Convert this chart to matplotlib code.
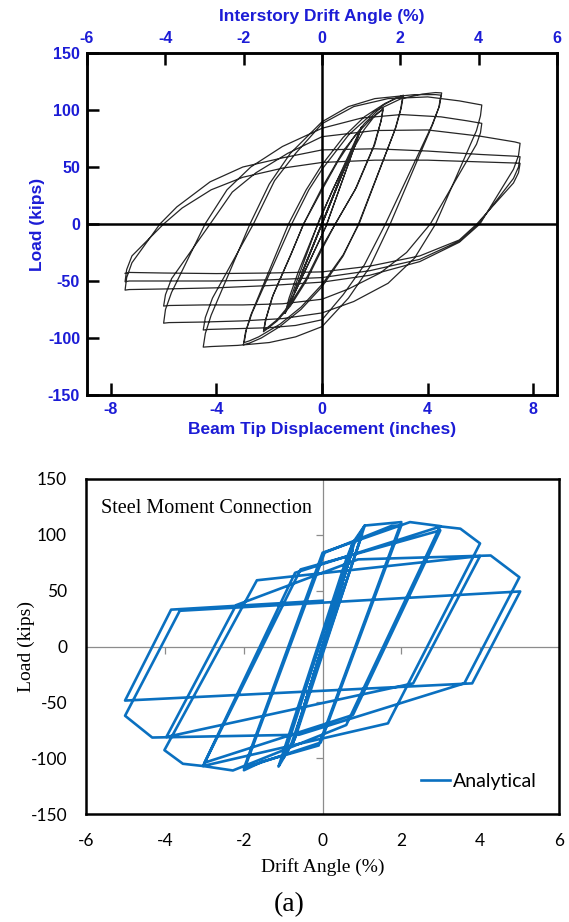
import numpy as np
from matplotlib import pyplot as plt

plt.rcParams['axes.unicode_minus'] = False

# ---- experimental loops (beam tip displacement in inches, load in kips) ----
el_x = [0, 0.75, -0.75, 0.75, -0.75, 1.1, -1.05, 1.1, -1.05, 1.5, 0.15, -1.4, -0.1, 1.5, 0.15, -1.4]
el_y = [0, 44, -42, 44, -42, 63, -60, 63, -60, 85.4, -2, -78.4, 4, 85.4, -2, -78.4]

c15_x = [-1.25, -0.9, -0.3, 0.4, 1.0, 1.6, 2.0, 2.32,
         2.25, 2.0, 1.3, 0.5, 0, -0.6, -1.2, -1.7, -2.05, -2.22,
         -2.15, -1.9, -1.2, -0.7, 0, 0.6, 1.2, 1.8, 2.15, 2.3,
         2.23, 1.95, 1.25, 0.5, 0, -0.6, -1.2, -1.7, -2.05, -2.2]
c15_y = [-65, -42, -8, 30, 58, 83, 95, 101.5,
         92, 70, 32, 0, -22, -50, -72, -85, -91.5, -94.5,
         -85, -65, -28, 0, 30, 55, 76, 91, 98, 100,
         90, 68, 30, 0, -20, -48, -70, -84, -90.5, -93]

c2_x = [-2.12, -1.85, -1.15, -0.7, 0, 0.8, 1.6, 2.3, 2.75, 3.08,
        3.0, 2.8, 1.38, 0.8, 0, -0.8, -1.6, -2.3, -2.75, -2.98,
        -2.9, -2.7, -1.27, -0.6, 0, 0.8, 1.6, 2.4, 2.8, 3.05,
        2.97, 2.75, 1.4, 0.8, 0, -0.8, -1.6, -2.4, -2.75, -2.95]
c2_y = [-83, -62, -25, 0, 32, 64, 88, 104, 110, 113,
        102, 85, 0, -28, -55, -75, -90, -100, -104.5, -106,
        -95, -80, 0, 30, 52, 76, 94, 106, 110, 111,
        100, 82, 0, -27, -53, -73, -88, -99, -102.5, -104]

c3_x = [-2.87, -2.65, -1.15, -0.5, 0, 1, 2, 3, 3.8, 4.3, 4.53,
        4.45, 4.2, 2.58, 1.8, 1.0, 0, -1, -2, -3.2, -4.2, -4.5,
        -4.42, -4.2, -2.73, -2.0, -1.2, 0, 1, 2, 3.5, 4.3, 4.5,
        4.42, 4.15, 2.4, 1.6, 0.8, 0, -1, -2, -3.5, -4.3, -4.5]
c3_y = [-93, -78, 0, 30, 48, 78, 99, 110, 114, 115.3, 115,
        104, 88, 0, -38, -65, -90, -99, -104, -106.5, -107.5, -108,
        -96, -80, 0, 35, 62, 89.7, 103, 110, 113.5, 113.5, 113,
        102, 86, 0, -36, -62, -84, -89, -91, -92, -92.5, -93]

c4_x = [-4.42, -4.15, -2.6, -1.8, -1, 0, 1.2, 2.5, 4, 5.2, 5.9, 6.05,
        6.0, 5.85, 4.3, 3.5, 2.5, 1.2, 0, -1.5, -3, -4.5, -5.8, -6.0,
        -5.93, -5.7, -4.43, -3.6, -2.7, -1.5, 0, 1.5, 3, 4.5, 5.5, 6.05,
        6.0, 5.85, 4.1, 3.2, 2.2, 1, 0, -1.5, -3, -4.5, -5.8, -6.0]
c4_y = [-82, -65, 0, 38, 62, 88, 103, 110, 111.5, 108, 105, 104.4,
        95, 82, 0, -30, -52, -68, -78, -83, -85, -86, -86.5, -87,
        -75, -60, 0, 30, 50, 68, 84, 93, 96, 94, 90.5, 88.3,
        80, 70, 0, -25, -43, -57, -66, -70, -71, -71, -71.5, -72]

c5_x = [-5.93, -5.7, -4.24, -3.4, -2.5, -1.3, 0, 2, 4, 6, 7.3, 7.5,
        7.44, 7.25, 5.98, 5.2, 3.7, 1.8, 0, -2, -4, -6, -7.3, -7.46,
        -7.4, -7.2, -6.14, -5.5, -4.24, -3, -1.5, 0, 2, 4, 6, 7.3, 7.5,
        7.44, 7.25, 5.92, 5.2, 3.7, 1.8, 0, -2, -4, -6, -7.3, -7.46,
        -7.4, -7.2, -6.0, -5.3, -4.2, -3, -1.5, 0, 2, 4, 6, 7.3, 7.5,
        7.44, 7.25, 5.86, 5.2, 3.7, 1.8, 0, -2, -4, -6, -7.3, -7.46]
c5_y = [-62, -48, 0, 28, 45, 62, 76.6, 82, 82.5, 77, 72, 70.8,
        60, 48, 0, -16, -33, -45, -51, -54, -56, -57, -57.5, -58,
        -47, -34, 0, 15, 37, 50, 58, 65, 66, 64, 61, 59.5, 59,
        50, 40, 0, -15, -31, -41, -47, -49, -50, -50, -50, -50.6,
        -40, -28, 0, 14, 30, 41, 49, 54, 56, 56, 54.5, 53.5, 53.2,
        45, 36, 0, -14, -28, -37, -42, -43, -43.5, -43, -42.5, -43.3]

# ---- analytical model (drift angle in %, load in kips) ----
ana_x = [0, 0.375, -0.375, 0.375, -0.375, 0.5, -0.5, 0.5, -0.5, 0.75, -0.75, 0.75, -0.75,
         0.8, 1.07, -0.7, -0.97, -1.12,
         0.6, 0.77, 1.0, -0.8, -1.0,
         0.77, 1.07, 2.0, -0.1, -1.53, -2.0,
         0.05, 1.75, 2.0, -0.05, -2.0,
         0.0, 2.22, 2.99, 0.6, -2.28, -3.04,
         -0.56, 2.99, 0.77, -3.0,
         -0.7, 3.0, 3.5, 4.0, 1.66, -3.04, -3.55, -4.02,
         -1.67, 4.0, 2.3, -3.97,
         -2.2, 0.9, 4.27, 5.0, 3.6, -0.6, -4.33, -5.02,
         -3.63, 5.02, 3.8, -5.02, -3.85, 0]
ana_y = [0, 43, -43, 43, -43, 57, -57, 57, -57, 86, -86, 86, -86,
         92, 108.3, -82, -98.5, -107.5,
         78, 93, 100, -88, -100,
         93, 108.3, 111.4, -88.6, -103, -110.8,
         84, 108, 108.5, -86, -109,
         84, 111.4, 107.8, -70.3, -111, -107,
         69, 104, -61.3, -104,
         66, 107.5, 105.5, 92.3, -68.8, -107, -105, -92.8,
         59.3, 81, -33, -81,
         37, 78, 81.5, 62, -33, -79, -81.5, -62,
         32, 49.3, -33, -48.4, 33, 41]

top_ticks = [-6, -4, -2, 0, 2, 4, 6]
disp_ticks = [-8, -4, 0, 4, 8]
load_ticks = [-150, -100, -50, 0, 50, 100, 150]
drift_ticks = [-6, -4, -2, 0, 2, 4, 6]

blue = '#1c1cd6'
fig = plt.figure(figsize=(5.69, 9.22), dpi=100)

# ---------------- top: experiment ----------------
ax1 = fig.add_axes([0.153, 0.5716, 0.826, 0.3709])
exp_x = el_x + c15_x + c2_x + c3_x + c4_x + c5_x
exp_y = el_y + c15_y + c2_y + c3_y + c4_y + c5_y
ax1.plot(exp_x, exp_y, color='#262626', lw=0.9, solid_joinstyle='round')
ax1.axhline(0, color='black', lw=1.8)
ax1.axvline(0, color='black', lw=1.8)
ax1.set_xlim(-8.9, 8.9)
ax1.set_ylim(-150, 150)
ax1.set_xticks(disp_ticks)
ax1.set_yticks(load_ticks)
ax1.tick_params(direction='in', length=8.5, width=1.8, colors='black', labelcolor=blue,
                labelsize=11.5, pad=5)
for s in ax1.spines.values():
    s.set_linewidth(1.8)
for lab in ax1.get_xticklabels() + ax1.get_yticklabels():
    lab.set_fontweight('bold')
    lab.set_family('Liberation Sans')
ax1.set_xlabel('Beam Tip Displacement (inches)', color=blue, fontsize=12.5,
               fontweight='bold', family='Liberation Sans', labelpad=4)
ax1.set_ylabel('Load (kips)', color=blue, fontsize=12.5, fontweight='bold',
               family='Liberation Sans', labelpad=2)

ax1t = ax1.twiny()
ax1t.set_xlim(-6, 6)
ax1t.set_xticks(top_ticks)
ax1t.tick_params(direction='in', length=8.5, width=1.8, labelcolor=blue, labelsize=11.5, pad=5)
for lab in ax1t.get_xticklabels():
    lab.set_fontweight('bold')
    lab.set_family('Liberation Sans')
ax1t.set_xlabel('Interstory Drift Angle (%)', color=blue, fontsize=12.5,
                fontweight='bold', family='Liberation Sans', labelpad=7.5)
for s in ax1t.spines.values():
    s.set_linewidth(1.8)

# ---------------- bottom: analytical ----------------
ax2 = fig.add_axes([0.152, 0.1171, 0.83, 0.3634])
ax2.axhline(0, color='#8c8c8c', lw=0.9, zorder=1)
ax2.axvline(0, color='#8c8c8c', lw=0.9, zorder=1)
ax2.plot([-4, -2, 2, 4], [0, 0, 0, 0], ls='none', marker=3, ms=5, color='#8c8c8c', mew=0.9)
ax2.plot([0, 0, 0, 0], [-100, -50, 50, 100], ls='none', marker=0, ms=5, color='#8c8c8c', mew=0.9)
ax2.plot(ana_x, ana_y, color='#0a70c0', lw=1.9, label='Analytical', zorder=3)
ax2.set_xlim(-6, 6)
ax2.set_ylim(-150, 150)
ax2.set_xticks(drift_ticks)
ax2.set_yticks(load_ticks)
ax2.tick_params(length=0, labelsize=12.5, pad=14)
for lab in ax2.get_xticklabels() + ax2.get_yticklabels():
    lab.set_family('Lato')
for s in ax2.spines.values():
    s.set_linewidth(1.8)
ax2.set_xlabel('Drift Angle (%)', fontsize=14, family='Liberation Serif', labelpad=6)
ax2.set_ylabel('Load (kips)', fontsize=14, family='Liberation Serif', labelpad=-3)
ax2.text(0.03, 0.912, 'Steel Moment Connection', transform=ax2.transAxes,
         fontsize=14.5, family='Liberation Serif', va='center')
ax2.legend(loc='lower right', frameon=False, prop={'family': 'Lato', 'size': 14},
           handlelength=1.5, handletextpad=0.15, bbox_to_anchor=(0.99, 0.02))

fig.text(0.508, 1 - 905 / 922, '(a)', ha='center', va='center', fontsize=20,
         family='Liberation Serif')

fig.savefig('out.png', dpi=100)
